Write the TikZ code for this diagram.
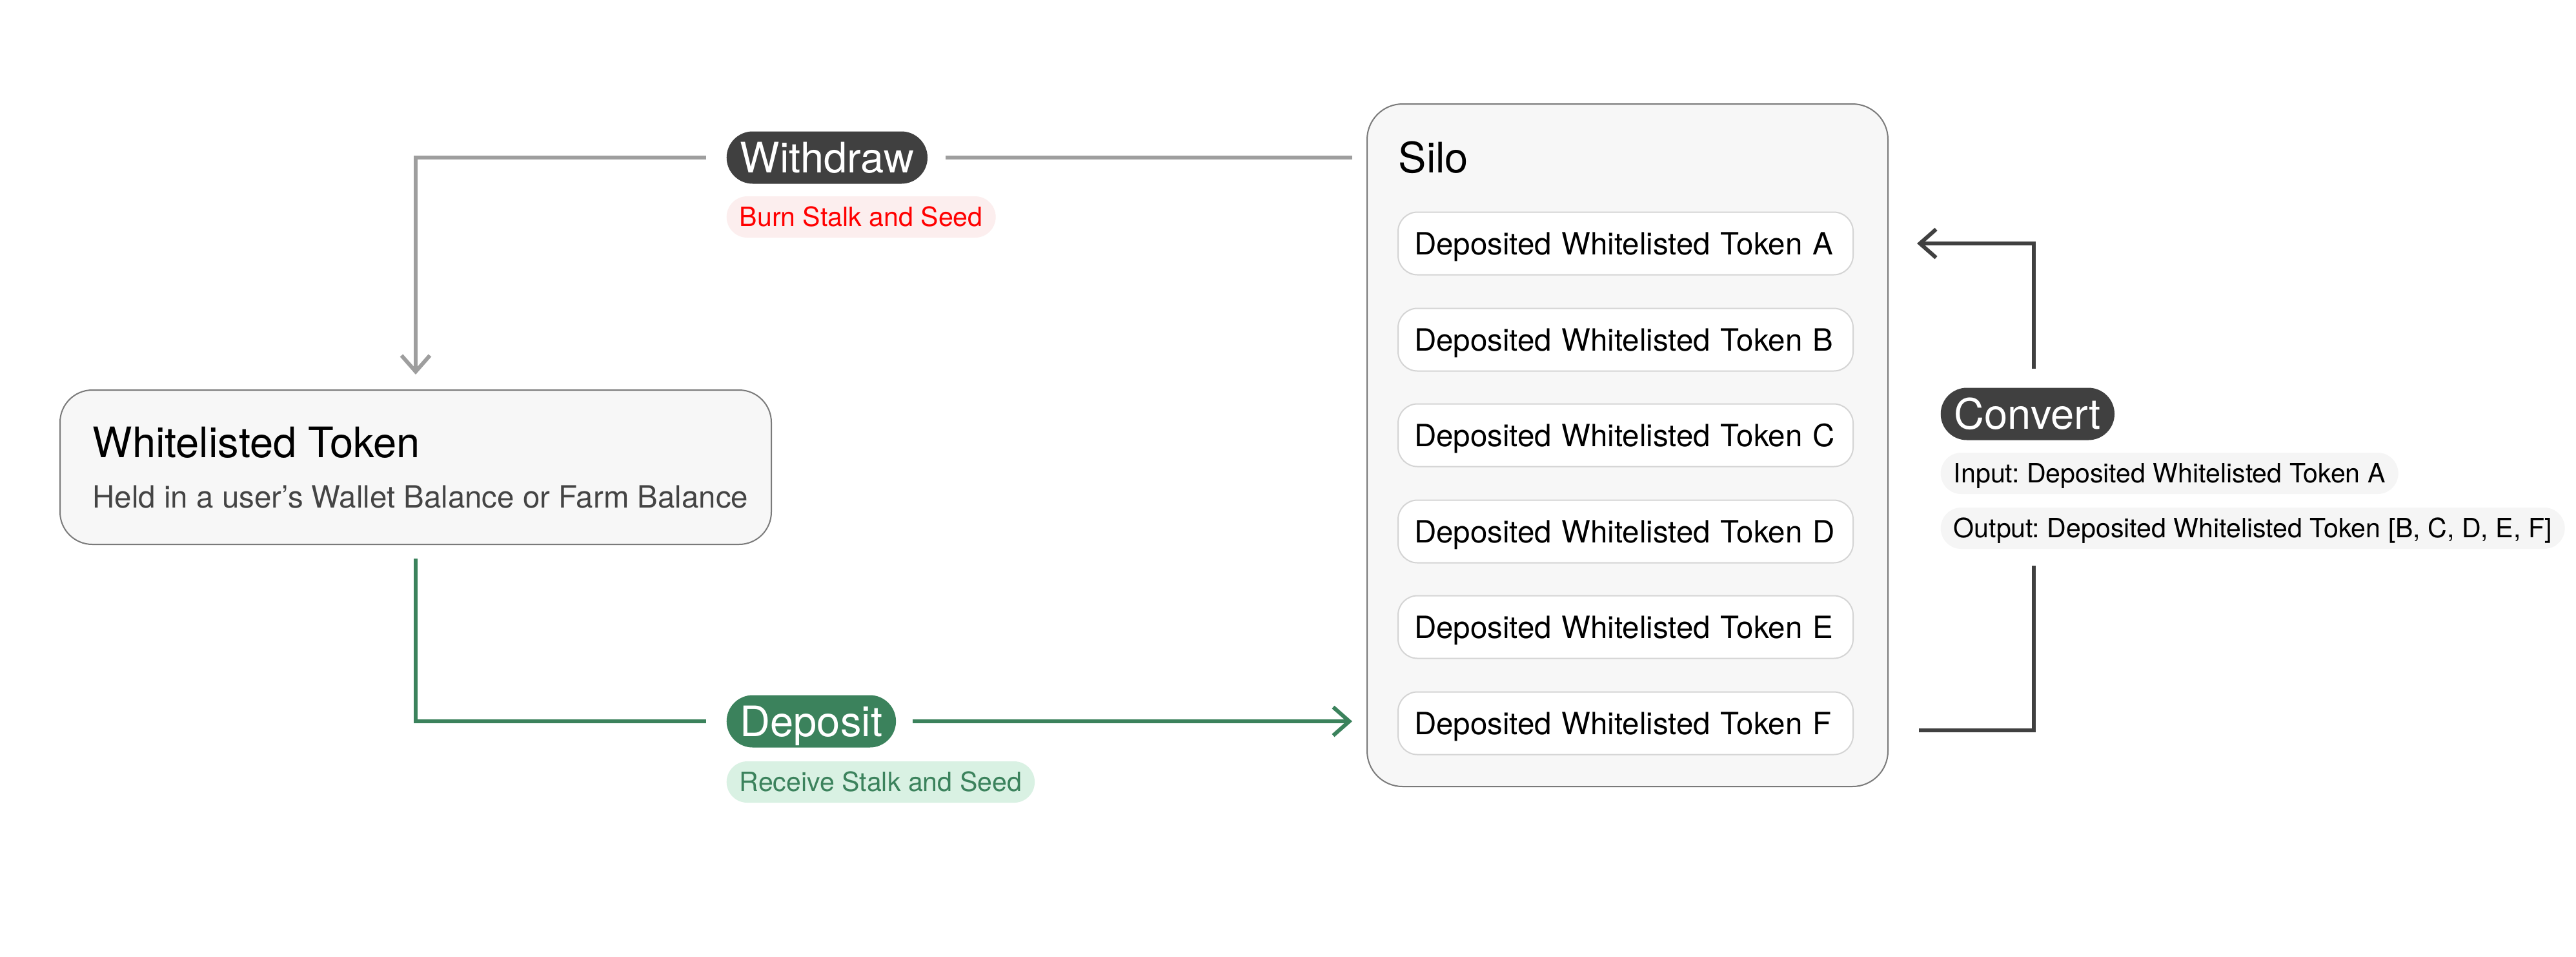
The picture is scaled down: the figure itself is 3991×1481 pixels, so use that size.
\documentclass[tikz,border=0pt]{standalone}
\usepackage{fontspec}
\setmainfont{TeX Gyre Heros}
\usetikzlibrary{arrows.meta,positioning}
\frenchspacing
\definecolor{pillgray}{HTML}{404040}
\definecolor{depgreen}{HTML}{3B825C}
\definecolor{recvfill}{HTML}{D9F1E3}
\definecolor{burnfill}{HTML}{FCEEEE}
\definecolor{burnred}{HTML}{FF0000}
\definecolor{convfill}{HTML}{F5F5F5}
\definecolor{panelfill}{HTML}{F7F7F7}
\definecolor{panelline}{HTML}{7A7A7A}
\definecolor{tokline}{HTML}{D4D4D4}
\definecolor{subtext}{HTML}{444444}
\definecolor{wiregray}{HTML}{9E9E9E}
\definecolor{wiredark}{HTML}{404040}
\newcommand{\titlesize}{\fontsize{18.5}{22}\selectfont}
\newcommand{\bodysize}{\fontsize{13.5}{16}\selectfont}
\newcommand{\tagsize}{\fontsize{11.7}{14}\selectfont}
\tikzstyle{pill}=[rounded corners=4.05mm,minimum height=8.1mm,inner xsep=2.1mm,inner ysep=0pt,text height=13.3pt,text depth=0pt,text=white,font=\titlesize,anchor=west]
\tikzstyle{tag}=[rounded corners=3.2mm,minimum height=6.4mm,inner xsep=2mm,inner ysep=0pt,text height=8.4pt,text depth=0pt,font=\tagsize,anchor=west]
\tikzstyle{token}=[draw=tokline,fill=white,rounded corners=3mm,line width=0.2mm,minimum height=9.7mm,text width=65.5mm,inner xsep=2.5mm,inner ysep=0pt,align=left,text height=9.7pt,text depth=0pt,font=\bodysize]
\tikzstyle{panel}=[draw=panelline,fill=panelfill,line width=0.2mm,anchor=north west,inner sep=0pt]
\tikzstyle{caption}=[anchor=base west,inner sep=0pt]
\tikzstyle{wire}=[line width=0.6mm]
\tikzstyle{barb}=[-{Straight Barb[length=2.5mm,width=4.4mm]}]

\begin{document}
\begin{tikzpicture}[x=0.1mm,y=-0.1mm]
    \fill[white] (0,0) rectangle (3991,1481);
    \useasboundingbox (0,0) rectangle (3991,1481);
%   left panel
    \node[panel,rounded corners=5mm,minimum width=110.2mm,minimum height=23.9mm] (wt) at (92,603) {};
    \node[caption,font=\titlesize] (wtname) at (143,708) {Whitelisted Token};
    \node[caption,font=\bodysize,text=subtext] (wtnote) at (143,786) {Held in a user’s Wallet Balance or Farm Balance};
%   silo panel
    \node[panel,rounded corners=5.5mm,minimum width=80.7mm,minimum height=105.7mm] (silo) at (2117,160) {};
    \node[caption,font=\titlesize] (siloname) at (2166,267) {Silo};
    \node[token] (tokA) at (2518.5,377)  {Deposited Whitelisted Token A};
    \node[token] (tokB) at (2518.5,526)  {Deposited Whitelisted Token B};
    \node[token] (tokC) at (2518.5,674)  {Deposited Whitelisted Token C};
    \node[token] (tokD) at (2518.5,823)  {Deposited Whitelisted Token D};
    \node[token] (tokE) at (2518.5,971)  {Deposited Whitelisted Token E};
    \node[token] (tokF) at (2518.5,1120) {Deposited Whitelisted Token F};
%   actions
    \node[pill,fill=pillgray] (wd) at (1125,244) {Withdraw};
    \node[tag,fill=burnfill,text=burnred] (burn) at (1125,336) {Burn Stalk and Seed};
    \node[pill,fill=depgreen] (dp) at (1125,1117) {Deposit};
    \node[tag,fill=recvfill,text=depgreen] (recv) at (1125,1211) {Receive Stalk and Seed};
    \node[pill,fill=pillgray] (cv) at (3006,641) {Convert};
    \node[tag,fill=convfill] (cvin) at (3006,733) {Input: Deposited Whitelisted Token A};
    \node[tag,fill=convfill] (cvout) at (3006,818) {Output: Deposited Whitelisted Token [B, C, D, E, F]};
%   withdraw
    \draw[wire,draw=wiregray,shorten <=2.2mm,shorten >=2.7mm] (silo.west |- wd) -- (wd.east);
    \draw[wire,draw=wiregray,barb,shorten <=3.1mm,shorten >=2.3mm] (wd.west) -| (wt.north);
%   deposit
    \draw[wire,draw=depgreen,shorten <=2.1mm,shorten >=3.1mm] (wt.south) |- (dp.west);
    \draw[wire,draw=depgreen,barb,shorten <=2.5mm,shorten >=2.2mm] (dp.east) -- (silo.west |- dp);
%   convert
    \coordinate (cvstart) at (2973,1131);
    \coordinate (cvlow) at (3151,876);
    \coordinate (cvhigh) at (3151,571);
    \coordinate (cvend) at (2970,377);
    \draw[wire,draw=wiredark] (cvstart) -| (cvlow);
    \draw[wire,draw=wiredark,barb] (cvhigh) |- (cvend);
\end{tikzpicture}
\end{document}
